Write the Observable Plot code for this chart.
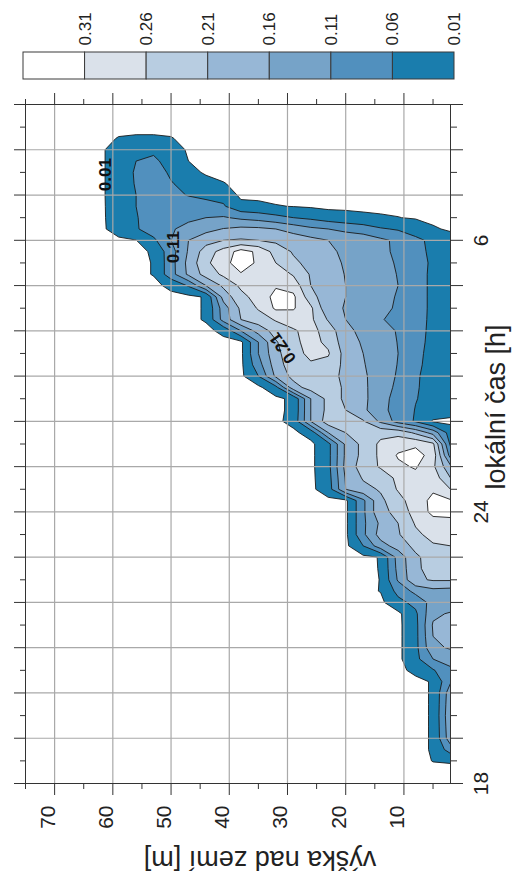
<!DOCTYPE html>
<html>
<head>
<meta charset="utf-8">
<script src="https://cdn.jsdelivr.net/npm/d3@7"></script>
<script src="https://cdn.jsdelivr.net/npm/@observablehq/plot@0.6"></script>
<style>
html, body { margin: 0; padding: 0; background: #fff; }
#chart svg { display: block; }
</style>
</head>
<body>
<div id="chart"></div>
<script>
// ---- grid axes of the field ----
const heights = [2, 5, 8, 11, 14, 17, 20, 23, 26, 29, 32, 35, 38, 41, 44, 47, 50, 53, 56, 59, 62, 65, 68, 71, 74];
const times = [18, 18.25, 18.5, 18.75, 19, 19.25, 19.5, 19.75, 20, 20.25, 20.5, 20.75,
               21, 21.25, 21.5, 21.75, 22, 22.25, 22.5, 22.75, 23, 23.25, 23.5, 23.75,
               24, 24.25, 24.5, 24.75, 25, 25.25, 25.5, 25.75, 26, 26.25, 26.5, 26.75,
               27, 27.25, 27.5, 27.75, 28, 28.25, 28.5, 28.75, 29, 29.25, 29.5, 29.75,
               30, 30.25, 30.5, 30.75, 31, 31.25, 31.5, 31.75, 32, 32.25, 32.5, 32.75, 33];

// ---- field values: one row per time, values from h = 2 m upward (missing = 0) ----
const fieldRows = [
  [],
  [],
  [0.013, 0.011],
  [0.085, 0.0135],
  [0.14, 0.0135],
  [0.145, 0.0135],
  [0.15, 0.0135],
  [0.145, 0.0135],
  [0.14, 0.0135],
  [0.105, 0.0135],
  [0.10, 0.055, 0.02],
  [0.13, 0.11, 0.045],
  [0.165, 0.15, 0.045],
  [0.18, 0.16, 0.045],
  [0.19, 0.165, 0.045],
  [0.165, 0.15, 0.05],
  [0.13, 0.13, 0.075, 0.045],
  [0.14, 0.145, 0.125, 0.075, 0.0115],
  [0.215, 0.215, 0.20, 0.116, 0.011],
  [0.23, 0.23, 0.20, 0.125, 0.012],
  [0.24, 0.235, 0.20, 0.13, 0.0125],
  [0.26, 0.255, 0.225, 0.18, 0.14, 0.06],
  [0.28, 0.275, 0.25, 0.205, 0.18, 0.10],
  [0.30, 0.295, 0.265, 0.21, 0.17, 0.10],
  [0.32, 0.32, 0.285, 0.22, 0.20, 0.10],
  [0.315, 0.32, 0.29, 0.24, 0.20, 0.10],
  [0.26, 0.305, 0.27, 0.265, 0.215, 0.195, 0.16, 0.035],
  [0.21, 0.29, 0.295, 0.27, 0.235, 0.215, 0.165, 0.04],
  [0.17, 0.27, 0.315, 0.30, 0.265, 0.235, 0.175, 0.045],
  [0.09, 0.29, 0.33, 0.315, 0.27, 0.225, 0.17, 0.045],
  [0.05, 0.27, 0.30, 0.29, 0.27, 0.225, 0.17, 0.045],
  [0.035, 0.14, 0.20, 0.245, 0.245, 0.23, 0.21, 0.16, 0.03],
  [0.0, 0.005, 0.055, 0.09, 0.15, 0.215, 0.23, 0.235, 0.16, 0.025],
  [0.03, 0.04, 0.058, 0.09, 0.125, 0.17, 0.21, 0.225, 0.16, 0.02],
  [0.035, 0.045, 0.062, 0.092, 0.128, 0.172, 0.205, 0.225, 0.16, 0.02],
  [0.035, 0.045, 0.064, 0.10, 0.132, 0.17, 0.205, 0.225, 0.23, 0.19, 0.045],
  [0.035, 0.045, 0.065, 0.105, 0.135, 0.168, 0.20, 0.225, 0.235, 0.225, 0.17, 0.06],
  [0.035, 0.047, 0.068, 0.108, 0.138, 0.163, 0.195, 0.245, 0.255, 0.24, 0.185, 0.09],
  [0.035, 0.048, 0.07, 0.11, 0.14, 0.16, 0.19, 0.265, 0.27, 0.245, 0.195, 0.11],
  [0.035, 0.05, 0.072, 0.108, 0.138, 0.155, 0.18, 0.25, 0.275, 0.25, 0.205, 0.11],
  [0.035, 0.05, 0.075, 0.105, 0.135, 0.15, 0.17, 0.24, 0.275, 0.255, 0.23, 0.18, 0.11, 0.02],
  [0.035, 0.05, 0.078, 0.102, 0.112, 0.148, 0.16, 0.205, 0.27, 0.28, 0.265, 0.235, 0.21, 0.13, 0.014],
  [0.035, 0.05, 0.08, 0.10, 0.13, 0.145, 0.158, 0.17, 0.27, 0.315, 0.318, 0.265, 0.22, 0.135, 0.014],
  [0.035, 0.05, 0.08, 0.105, 0.13, 0.145, 0.16, 0.175, 0.23, 0.32, 0.325, 0.28, 0.245, 0.18, 0.014],
  [0.035, 0.05, 0.08, 0.11, 0.13, 0.145, 0.16, 0.18, 0.21, 0.29, 0.305, 0.29, 0.27, 0.22, 0.16, 0.065, 0.02],
  [0.035, 0.05, 0.08, 0.108, 0.128, 0.142, 0.158, 0.18, 0.205, 0.255, 0.29, 0.30, 0.305, 0.27, 0.23, 0.17, 0.09, 0.012],
  [0.035, 0.052, 0.08, 0.105, 0.125, 0.14, 0.155, 0.175, 0.195, 0.22, 0.26, 0.30, 0.34, 0.29, 0.25, 0.175, 0.09, 0.012],
  [0.032, 0.05, 0.075, 0.10, 0.122, 0.14, 0.152, 0.168, 0.185, 0.205, 0.24, 0.30, 0.33, 0.28, 0.235, 0.165, 0.09, 0.015],
  [0.03, 0.05, 0.07, 0.10, 0.12, 0.14, 0.15, 0.16, 0.175, 0.19, 0.20, 0.21, 0.215, 0.21, 0.19, 0.16, 0.11, 0.05, 0.009],
  [0.004, 0.015, 0.04, 0.055, 0.065, 0.085, 0.095, 0.11, 0.12, 0.14, 0.16, 0.17, 0.172, 0.162, 0.145, 0.125, 0.105, 0.085, 0.055, 0.035],
  [0, 0, 0.006, 0.011, 0.015, 0.02, 0.028, 0.035, 0.05, 0.06, 0.075, 0.09, 0.10, 0.115, 0.11, 0.10, 0.09, 0.075, 0.058, 0.04],
  [0, 0, 0, 0, 0, 0, 0, 0, 0.005, 0.009, 0.012, 0.02, 0.025, 0.065, 0.075, 0.08, 0.085, 0.08, 0.06, 0.042],
  [0, 0, 0, 0, 0, 0, 0, 0, 0, 0, 0, 0, 0, 0.045, 0.05, 0.058, 0.07, 0.075, 0.06, 0.045],
  [0, 0, 0, 0, 0, 0, 0, 0, 0, 0, 0, 0, 0, 0.012, 0.04, 0.05, 0.062, 0.075, 0.062, 0.045],
  [0, 0, 0, 0, 0, 0, 0, 0, 0, 0, 0, 0, 0, 0, 0, 0.035, 0.055, 0.075, 0.063, 0.045],
  [0, 0, 0, 0, 0, 0, 0, 0, 0, 0, 0, 0, 0, 0, 0, 0.01, 0.05, 0.065, 0.06, 0.045],
  [0, 0, 0, 0, 0, 0, 0, 0, 0, 0, 0, 0, 0, 0, 0, 0, 0.05, 0.055, 0.055, 0.045],
  [0, 0, 0, 0, 0, 0, 0, 0, 0, 0, 0, 0, 0, 0, 0, 0, 0.012, 0.015, 0.015, 0.012],
  [],
  [],
  []
];

// ---- contour levels and colours ----
const thresholds = [0.01, 0.06, 0.11, 0.16, 0.21, 0.26, 0.31];
const bandColors = ["#1a7dad", "#5190be", "#76a3c8", "#97b7d6", "#b8cde1", "#dae1ea", "#ffffff"];

// ---- axes ----
const heightMajor = [10, 20, 30, 40, 50, 60, 70];
const heightMinor = [5, 15, 25, 35, 45, 55, 65, 75];
const timeMajor = [18, 19, 20, 21, 22, 23, 24, 25, 26, 27, 28, 29, 30, 31, 32, 33];
const timeMinor = [18.5, 19.5, 20.5, 21.5, 22.5, 23.5, 24.5, 25.5, 26.5, 27.5, 28.5, 29.5, 30.5, 31.5, 32.5];
const timeGrid = [19, 20, 21, 22, 23, 24, 25, 26, 27, 28, 29, 30, 31, 32];
const timeLabels = [18, 24, 30];
const heightLabel = "výška nad zemí [m]";
const timeLabel = "lokální čas [h]";

// ---- contour labels ----
const contourLabelText = ["0.01", "0.11", "0.21"];
const contourLabelH = [61.3, 49.6, 30.8];
const contourLabelT = [31.45, 29.85, 27.62];
const contourLabelAngle = [-90, -90, -125];

// ---- build dense grid for Plot.contour ----
const W = heights.length, H = times.length;
if (fieldRows.length !== H) throw new Error("row count " + fieldRows.length);
const grid = [];
for (const row of fieldRows) for (let i = 0; i < W; i++) grid.push(row[i] ?? 0);
const dh = heights[1] - heights[0], dt = times[1] - times[0];
const x1 = heights[0] - dh / 2, x2 = heights[W - 1] + dh / 2;
const y1 = times[0] - dt / 2, y2 = times[H - 1] + dt / 2;

const font = "'Liberation Sans', Arial, Helvetica, sans-serif";
const ink = "#222";
const blank = () => "";

const main = Plot.plot({
  width: 517, height: 785,
  marginTop: 16, marginBottom: 90, marginLeft: 25, marginRight: 67,
  x: {domain: [75, 2]},
  y: {domain: [18, 33]},
  color: {type: "ordinal", domain: thresholds, range: bandColors},
  style: {fontFamily: font, background: "transparent", overflow: "visible", color: ink},
  marks: [
    Plot.contour(grid, {width: W, height: H, x1, x2, y1, y2, fill: Plot.identity,
      stroke: "#1b1b1b", strokeWidth: 0.9, thresholds, clip: true}),
    Plot.ruleX(heightMajor, {stroke: "#a9a9a9", strokeWidth: 1.2}),
    Plot.ruleY(timeGrid, {stroke: "#a9a9a9", strokeWidth: 1.2}),
    Plot.frame({stroke: "#333", strokeWidth: 1}),
    Plot.axisX(heightMajor, {anchor: "top", tickSize: 12, tickFormat: blank, label: null, stroke: "#333"}),
    Plot.axisX(heightMinor, {anchor: "top", tickSize: 6, tickFormat: blank, label: null, stroke: "#333"}),
    Plot.axisX(heightMajor, {anchor: "bottom", tickSize: 12, tickFormat: blank, label: null, stroke: "#333"}),
    Plot.axisX(heightMinor, {anchor: "bottom", tickSize: 6, tickFormat: blank, label: null, stroke: "#333"}),
    Plot.axisY(timeMajor, {anchor: "left", tickSize: 11, tickFormat: blank, label: null, stroke: "#333"}),
    Plot.axisY(timeMinor, {anchor: "left", tickSize: 5, tickFormat: blank, label: null, stroke: "#333"}),
    Plot.axisY(timeMajor, {anchor: "right", tickSize: 12, tickFormat: blank, label: null, stroke: "#333"}),
    Plot.axisY(timeMinor, {anchor: "right", tickSize: 6, tickFormat: blank, label: null, stroke: "#333"}),
    Plot.text(heightMajor, {x: d => d, frameAnchor: "bottom", dy: 22, rotate: -90, textAnchor: "end",
      text: d => String(d), fontSize: 21, fill: ink}),
    Plot.text(timeLabels, {y: d => d, frameAnchor: "right", dx: 31, rotate: -90, textAnchor: "middle",
      text: d => String(d > 24 ? d - 24 : d), fontSize: 21, fill: ink}),
    Plot.text([timeLabel], {frameAnchor: "right", dx: 46, dy: -37, rotate: -90, textAnchor: "middle",
      text: d => d, fontSize: 27, fill: ink}),
    Plot.text([heightLabel], {frameAnchor: "bottom", dx: 22, dy: 67, rotate: 180, textAnchor: "middle",
      text: d => d, fontSize: 27, fill: ink}),
    Plot.text(contourLabelText, {x: (d, i) => contourLabelH[i], y: (d, i) => contourLabelT[i],
      rotate: (d, i) => contourLabelAngle[i], text: d => d, fontSize: 17, fontWeight: "bold", fill: "#111"})
  ]
});

// ---- colour bar ----
const barIdx = [0, 1, 2, 3, 4, 5, 6];
const barColors = barIdx.map(i => bandColors[6 - i]);
const barLabels = barIdx.map(i => thresholds[6 - i].toFixed(2));

const bar = Plot.plot({
  width: 517, height: 88,
  marginTop: 52, marginBottom: 9, marginLeft: 23, marginRight: 63,
  x: {domain: [0, 7], axis: null},
  y: {domain: [0, 1], axis: null},
  color: {type: "identity"},
  style: {fontFamily: font, background: "transparent", overflow: "visible", color: ink},
  marks: [
    Plot.rect(barIdx, {x1: i => i, x2: i => i + 1, y1: 0, y2: 1, fill: i => barColors[i], stroke: "#3a3a3a", strokeWidth: 1}),
    Plot.text(barIdx, {x: i => i + 1, y: 1, dy: -7, rotate: -90, textAnchor: "start",
      text: i => barLabels[i], fontSize: 17, fill: ink})
  ]
});

document.getElementById("chart").append(bar, main);
</script>
</body>
</html>
